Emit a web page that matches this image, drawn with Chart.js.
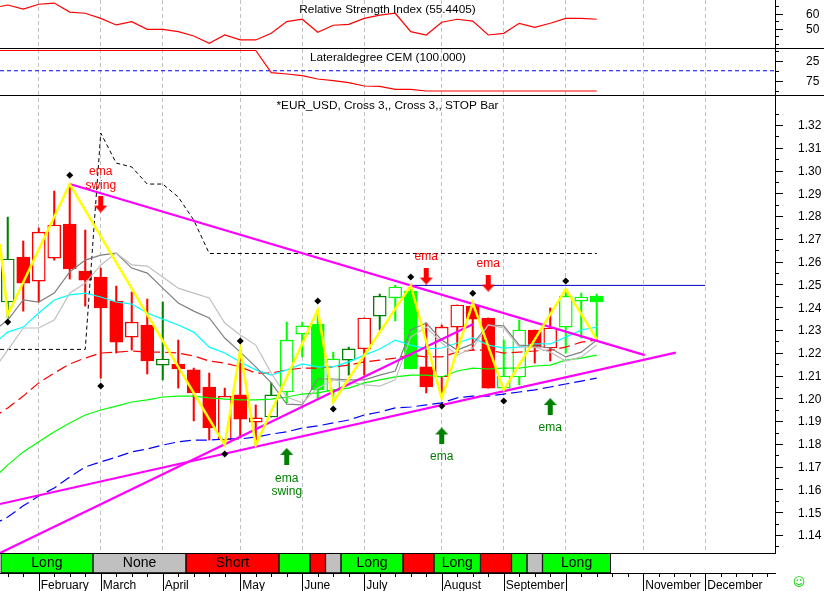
<!DOCTYPE html>
<html>
<head>
<meta charset="utf-8">
<title>EUR_USD</title>
<script src="https://cdn.jsdelivr.net/npm/chart.js@4/dist/chart.umd.min.js"></script>
<style>
html, body { margin: 0; padding: 0; background: #fff; }
canvas { display: block; }
</style>
</head>
<body>
<canvas id="chart" width="824" height="591"></canvas>
<script>
// Bars are indexed 0..38, axis runs from -0.5 to 49.5 (weekly slots)
const barIndex = [0,1,2,3,4,5,6,7,8,9,10,11,12,13,14,15,16,17,18,19,20,21,22,23,24,25,26,27,28,29,30,31,32,33,34,35,36,37,38];
const lineIndex = [-1].concat(barIndex);

const candleKind = ['greenH','redF','redH','redH','redF','redF','redF','redF','redH','redF','greenH','redF','redF','redF','redH','redF','redH','greenH','limeH','limeH','limeF','limeH','greenH','redH','greenH','limeH','limeF','redF','redH','redH','redF','redF','limeH','limeH','redF','redH','limeH','limeH','limeF'];
const candleHigh = [1.2796,1.2691,1.2748,1.2910,1.2941,1.2739,1.2572,1.2493,1.2467,1.2436,1.2423,1.2256,1.2133,1.2111,1.2045,1.2212,1.1971,1.2068,1.2335,1.2335,1.2388,1.2203,1.2225,1.2353,1.2458,1.2497,1.2497,1.2331,1.2322,1.2410,1.2423,1.2353,1.2256,1.2344,1.2300,1.2397,1.2476,1.2462,1.2458];
const bodyTop = [1.2612,1.2620,1.2730,1.2761,1.2765,1.2559,1.2533,1.2427,1.2335,1.2322,1.2173,1.2151,1.2125,1.2050,1.2010,1.2015,1.1914,1.2015,1.2256,1.2318,1.2326,1.2173,1.2217,1.2353,1.2449,1.2489,1.2471,1.2138,1.2313,1.2410,1.2405,1.2353,1.2098,1.2300,1.2300,1.2309,1.2449,1.2445,1.2449];
const bodyBottom = [1.2423,1.2506,1.2515,1.2616,1.2568,1.2519,1.2397,1.2247,1.2269,1.2164,1.2146,1.2129,1.2024,1.1870,1.1817,1.1909,1.1896,1.1918,1.2028,1.2282,1.2037,1.2032,1.2168,1.2217,1.2361,1.2441,1.2129,1.2050,1.2094,1.2313,1.2348,1.2045,1.2045,1.2094,1.2225,1.2221,1.2313,1.2427,1.2423];
const candleLow = [1.2353,1.2383,1.2423,1.2607,1.2524,1.2405,1.2089,1.2199,1.2212,1.2107,1.2081,1.2045,1.1901,1.1817,1.1795,1.1826,1.1795,1.1918,1.1980,1.2182,1.1993,1.2006,1.2102,1.2102,1.2300,1.2340,1.2129,1.2024,1.2006,1.2203,1.2212,1.2045,1.2037,1.2059,1.2155,1.2164,1.2199,1.2265,1.2256];

// moving averages, first value sits just off the left edge
const maCyan = [1.2234,1.2291,1.2313,1.2375,1.2432,1.2454,1.2462,1.2445,1.2423,1.2414,1.2375,1.2348,1.2322,1.2291,1.2225,1.2199,1.2160,1.2125,1.2102,1.2125,1.2151,1.2138,1.2138,1.2160,1.2190,1.2217,1.2256,1.2234,1.2217,1.2221,1.2243,1.2265,1.2234,1.2221,1.2225,1.2239,1.2239,1.2269,1.2300,1.2313];
const maLime = [1.1642,1.1708,1.1765,1.1809,1.1853,1.1892,1.1927,1.1949,1.1966,1.1984,1.1993,1.2006,1.2010,1.2010,1.2002,1.1997,1.1993,1.1993,1.1997,1.2006,1.2019,1.2024,1.2037,1.2045,1.2068,1.2081,1.2094,1.2102,1.2102,1.2094,1.2120,1.2133,1.2129,1.2133,1.2133,1.2142,1.2146,1.2168,1.2177,1.2190];
const maBlue = [1.1444,1.1479,1.1528,1.1571,1.1606,1.1655,1.1699,1.1721,1.1742,1.1765,1.1778,1.1795,1.1809,1.1817,1.1817,1.1822,1.1822,1.1830,1.1843,1.1853,1.1870,1.1879,1.1892,1.1905,1.1927,1.1940,1.1958,1.1962,1.1971,1.1980,1.2002,1.2010,1.2010,1.2019,1.2028,1.2037,1.2050,1.2063,1.2076,1.2089];
const maRed = [1.1914,1.1958,1.2010,1.2068,1.2111,1.2151,1.2177,1.2199,1.2203,1.2208,1.2203,1.2203,1.2199,1.2186,1.2164,1.2155,1.2138,1.2111,1.2111,1.2125,1.2133,1.2133,1.2138,1.2146,1.2160,1.2168,1.2177,1.2190,1.2182,1.2182,1.2203,1.2212,1.2212,1.2199,1.2203,1.2208,1.2212,1.2225,1.2247,1.2256];
const maGray = [1.2291,1.2344,1.2432,1.2423,1.2462,1.2555,1.2607,1.2629,1.2638,1.2572,1.2550,1.2484,1.2419,1.2383,1.2353,1.2265,1.2203,1.2138,1.2068,1.1975,1.1971,1.2085,1.2085,1.2081,1.2081,1.2102,1.2120,1.2300,1.2331,1.2256,1.2212,1.2239,1.2322,1.2318,1.2234,1.2230,1.2221,1.2182,1.2203,1.2256];
const maSilver = [1.2116,1.2212,1.2309,1.2309,1.2344,1.2462,1.2506,1.2586,1.2638,1.2586,1.2581,1.2533,1.2484,1.2462,1.2441,1.2331,1.2278,1.2234,1.2111,1.2006,1.1980,1.2045,1.2081,1.2072,1.2059,1.2054,1.2081,1.2269,1.2313,1.2243,1.2190,1.2221,1.2322,1.2309,1.2225,1.2225,1.2203,1.2164,1.2182,1.2234];

const zigzagX = [-0.5,0,4,14,15,16,20,21,26,28,30,32,36,38];
const zigzagY = [1.2678,1.2366,1.2941,1.1795,1.2212,1.1795,1.2388,1.1984,1.2495,1.2001,1.2419,1.2037,1.2480,1.2260];
const pivotX = [0,4,6,14,15,20,21,26,28,30,32,36];
const pivotY = [1.2335,1.2980,1.2054,1.1756,1.2252,1.2427,1.1953,1.2533,1.1966,1.2462,1.1988,1.2515];
const stopX = [-0.5,5,6,7,8,9,10,11,12,13,38];
const stopY = [1.2215,1.2215,1.3165,1.3033,1.3016,1.2941,1.2941,1.2884,1.2783,1.2636,1.2636];
const resistanceX = [26,45];
const resistanceY = [1.2496,1.2496];
const trendDownX = [4,41.1];
const trendDownY = [1.2941,1.2190];
const trendUpX = [-0.5,43.1];
const trendUpY = [1.1536,1.2201];
const trendSteepX = [-0.5,30];
const trendSteepY = [1.1321,1.2325];

const sellArrowX = [6,27,31];
const sellArrowY = [1.2853,1.2537,1.2506];
const buyArrowX = [18,28,35];
const buyArrowY = [1.1745,1.1835,1.1964];
const sellNotes = ['ema','swing','ema','ema'];
const sellNoteX = [6,6,27,31];
const sellNoteY = [1.2994,1.2932,1.2620,1.2590];
const buyNotes = ['ema','swing','ema','ema'];
const buyNoteX = [18,18,28,35];
const buyNoteY = [1.1646,1.1589,1.1742,1.1870];

const rsiValues = [63.8,65.8,63.1,66.3,67.1,61.1,60.3,56.9,52.5,54.7,49.6,49.6,48,45.1,40.3,45.8,42.5,42.5,46.9,54.7,56.3,47.6,52.3,52.9,56.9,59.1,60.3,48,45.8,54.3,56.3,55.1,45.8,46.9,53.6,50.9,53.6,56.9,56.9,56.3];
const cemValues = [0,0,0,0,0,0,0,0,0,0,0,0,0,0,0,0,0,0,54.8,58,62.2,70.4,74.6,79.5,87.7,88.4,95.8,95.8,100,100,100,100,100,100,100,100,100,100,100,100];
const cemLevel = 50;

const stateNames = ['Long','None','Short','Long','Short','None','Long','Short','Long','Short','Long','None','Long',''];
const stateFrom = [-0.45,5.5,11.5,17.5,19.5,20.5,21.5,25.5,27.5,30.5,32.5,33.5,34.5,38.9];
const stateTo = [5.5,11.5,17.5,19.5,20.5,21.5,25.5,27.5,30.5,32.5,33.5,34.5,38.9,49.5];
const stateLabelled = [true,true,true,false,false,false,true,false,true,false,false,false,true,false];

const monthTicks = [2,6,10,15,19,23,28,32,36,41,45];
const monthNames = ['February','March','April','May','June','July','August','September','','November','December'];
const priceMajor = [1.14,1.15,1.16,1.17,1.18,1.19,1.20,1.21,1.22,1.23,1.24,1.25,1.26,1.27,1.28,1.29,1.30,1.31,1.32];
const priceMinor = [1.135,1.145,1.155,1.165,1.175,1.185,1.195,1.205,1.215,1.225,1.235,1.245,1.255,1.265,1.275,1.285,1.295,1.305,1.315,1.325];
const rsiMajor = [50,60];
const rsiMinor = [40,45,55,65];
const cemMajor = [25,75];
const cemMinor = [0,50,100];

const titleRsi = 'Relative Strength Index (55.4405)';
const titleCem = 'Lateraldegree CEM (100.000)';
const titlePrice = '*EUR_USD, Cross 3,, Cross 3,, STOP Bar';

const FONT = '"Liberation Sans", Arial, sans-serif';
const RED = '#ff0000', LIME = '#00ff00', GREEN = '#008000', MAGENTA = '#ff00ff';
const KIND_STYLE = {
    redF:   { line: RED,   fill: RED },
    redH:   { line: RED,   fill: '#ffffff' },
    greenH: { line: GREEN, fill: '#ffffff' },
    limeH:  { line: LIME,  fill: '#ffffff' },
    limeF:  { line: LIME,  fill: LIME },
};
const STATE_FILL = { Long: LIME, None: '#c0c0c0', Short: RED };
const stateFill = stateNames.map(s => STATE_FILL[s] || '#ffffff');

const zip = (xs, ys) => xs.map((x, i) => ({ x, y: ys[i] }));

function trazo(label, xs, ys, color, width, extra) {
    return Object.assign({
        type: 'line', label, data: zip(xs, ys), yAxisID: 'price',
        borderColor: color, borderWidth: width, pointRadius: 0, tension: 0, order: 5,
    }, extra || {});
}

function arrowImage(color, up) {
    const c = document.createElement('canvas');
    c.width = 13; c.height = 17;
    const g = c.getContext('2d');
    g.fillStyle = color;
    g.save();
    if (!up) { g.translate(0, 17); g.scale(1, -1); }
    g.beginPath();
    g.moveTo(6.5, 0); g.lineTo(13, 7); g.lineTo(9, 7); g.lineTo(9, 17);
    g.lineTo(4, 17); g.lineTo(4, 7); g.lineTo(0, 7);
    g.closePath(); g.fill();
    g.restore();
    return c;
}

const barSlots = [0,1,2,3,4,5,6,7,8,9,10,11,12,13,14,15,16,17,18,19,20,21,22,23,24,25,26,27,28,29,30,31,32,33,34,35,36,37,38,39,40,41,42,43,44,45,46,47,48,49];

// tick marks with two lengths plus separators, panel titles and strip names
const decorPlugin = {
    id: 'decor',
    afterDatasetsDraw(chart) {
        const { ctx, scales } = chart;
        const right = scales.price.left;
        ctx.save();
        ctx.strokeStyle = '#000'; ctx.lineWidth = 1;
        const hline = (y, x0, x1) => { y = Math.round(y) + 0.5; ctx.beginPath(); ctx.moveTo(x0, y); ctx.lineTo(x1, y); ctx.stroke(); };
        hline(scales.cem.top, 0, 824);
        hline(scales.price.top, 0, 824);
        hline(scales.state.top, 0, right);
        [['rsi', rsiMajor, rsiMinor], ['cem', cemMajor, cemMinor], ['price', priceMajor, priceMinor]].forEach(([id, major, minor]) => {
            const s = scales[id];
            major.forEach(v => hline(s.getPixelForValue(v), right, right + 8));
            minor.forEach(v => hline(s.getPixelForValue(v), right, right + 4));
        });
        const bottom = scales.x.top;
        barSlots.forEach(v => {
            const x = Math.round(scales.x.getPixelForValue(v)) + 0.5;
            ctx.beginPath(); ctx.moveTo(x, bottom);
            ctx.lineTo(x, bottom + (monthTicks.includes(v) ? 18 : 4)); ctx.stroke();
        });

        ctx.textAlign = 'center'; ctx.textBaseline = 'middle';
        ctx.fillStyle = '#000'; ctx.font = '11.8px ' + FONT;
        ctx.fillText(titleRsi, 387.5, 10);
        ctx.fillText(titleCem, 388, 58);
        ctx.fillText(titlePrice, 387.5, 106);

        ctx.font = '14px ' + FONT;
        stateNames.forEach((n, i) => {
            if (!stateLabelled[i]) return;
            const x = (scales.x.getPixelForValue(stateFrom[i]) + scales.x.getPixelForValue(stateTo[i])) / 2;
            ctx.fillText(n, x, scales.state.getPixelForValue(0.5));
        });

        ctx.font = '12px ' + FONT;
        ctx.fillStyle = RED;
        sellNotes.forEach((t, i) => ctx.fillText(t, scales.x.getPixelForValue(sellNoteX[i]), scales.price.getPixelForValue(sellNoteY[i])));
        ctx.fillStyle = GREEN;
        buyNotes.forEach((t, i) => ctx.fillText(t, scales.x.getPixelForValue(buyNoteX[i]), scales.price.getPixelForValue(buyNoteY[i])));

        ctx.fillStyle = '#00d000';
        ctx.font = '12px "DejaVu Sans"';
        ctx.fillText('\u263A', 799, 583);
        ctx.restore();
    },
};

function yScale(stackWeight, weight, min, max, major, minor, padding, reverse) {
    return {
        type: 'linear', position: 'right', stack: 'panels', stackWeight, weight,
        min, max, reverse: !!reverse, offset: false,
        grid: { display: false, drawTicks: false },
        border: { display: true, color: '#000' },
        afterBuildTicks: s => { s.ticks = major.concat(minor).map(value => ({ value })); },
        afterFit: s => { s.width = 49; s.paddingTop = 0; s.paddingBottom = 0; },
        ticks: {
            autoSkip: false, padding, labelOffset: 1, color: '#000', font: { size: 12 },
            callback: v => (major.includes(v) ? String(v) : ''),
        },
    };
}

const priceScale = yScale(458, 3, 1.1321, 1.3332, priceMajor, priceMinor, 23);
priceScale.ticks.callback = v => (priceMajor.includes(v) ? v.toFixed(2) : '');

const stateScale = yScale(20, 4, 0, 1, [], [], 0);
stateScale.border = { display: false };
stateScale.ticks.display = false;

Chart.defaults.font.family = FONT;

new Chart(document.getElementById('chart').getContext('2d'), {
    type: 'line',
    data: {
        datasets: [
            // state strip
            {
                type: 'bar', indexAxis: 'y', label: 'State', xAxisID: 'x', yAxisID: 'state', grouped: false,
                data: stateFrom.map((from, i) => ({ x: [from, stateTo[i]], y: 0.5 })),
                backgroundColor: stateFill,
                borderColor: stateNames.map(n => (n ? '#000' : 'transparent')),
                borderWidth: 1, borderSkipped: false, barThickness: 20, order: 1,
            },
            // pivots and signals
            trazo('Pivots', pivotX, pivotY, '#000', 0, { showLine: false, pointStyle: 'rectRot', pointRadius: 3.5, pointBackgroundColor: '#000', pointBorderWidth: 0, order: 2 }),
            trazo('Sell', sellArrowX, sellArrowY, RED, 0, { showLine: false, pointStyle: arrowImage(RED, false), pointRadius: 8, order: 2 }),
            trazo('Buy', buyArrowX, buyArrowY, GREEN, 0, { showLine: false, pointStyle: arrowImage(GREEN, true), pointRadius: 8, order: 2 }),
            trazo('Zigzag', zigzagX, zigzagY, '#ffff00', 2.5, { order: 3 }),
            trazo('Trend down', trendDownX, trendDownY, MAGENTA, 2.2, { order: 4 }),
            trazo('Trend up', trendUpX, trendUpY, MAGENTA, 2.2, { order: 4 }),
            trazo('Trend steep', trendSteepX, trendSteepY, MAGENTA, 2.2, { order: 4 }),
            trazo('Resistance', resistanceX, resistanceY, '#0000c8', 1, { order: 4 }),
            // moving averages
            trazo('MA silver', lineIndex, maSilver, '#c0c0c0', 1.2),
            trazo('MA gray', lineIndex, maGray, '#808080', 1.2),
            trazo('MA cyan', lineIndex, maCyan, '#00ffff', 1.2),
            trazo('MA red', lineIndex, maRed, RED, 1.2, { borderDash: [11, 5] }),
            trazo('MA lime', lineIndex, maLime, LIME, 1.2),
            trazo('MA blue', lineIndex, maBlue, '#0000ff', 1.2, { borderDash: [11, 5] }),
            trazo('Stop', stopX, stopY, '#000', 1, { borderDash: [4, 3] }),
            // candles: wick behind, body on top
            {
                type: 'bar', label: 'Body', yAxisID: 'price', grouped: false,
                data: barIndex.map(i => ({ x: i, y: [bodyBottom[i], bodyTop[i]] })),
                backgroundColor: candleKind.map(k => KIND_STYLE[k].fill),
                borderColor: candleKind.map(k => KIND_STYLE[k].line),
                borderWidth: 1.4, borderSkipped: false, barThickness: 13, order: 6,
            },
            {
                type: 'bar', label: 'Wick', yAxisID: 'price', grouped: false,
                data: barIndex.map(i => ({ x: i, y: [candleLow[i], candleHigh[i]] })),
                backgroundColor: candleKind.map(k => KIND_STYLE[k].line),
                borderWidth: 0, barThickness: 1.4, order: 7,
            },
            // indicator panels
            { type: 'line', label: 'RSI', data: zip(lineIndex, rsiValues), yAxisID: 'rsi', borderColor: RED, borderWidth: 1.2, pointRadius: 0, order: 5 },
            { type: 'line', label: 'CEM', data: zip(lineIndex, cemValues), yAxisID: 'cem', borderColor: RED, borderWidth: 1.2, pointRadius: 0, order: 5 },
            { type: 'line', label: 'CEM level', data: [{ x: -0.5, y: cemLevel }, { x: 49.5, y: cemLevel }], yAxisID: 'cem', borderColor: '#0000ff', borderWidth: 1, borderDash: [4, 3], pointRadius: 0, order: 5 },
        ],
    },
    options: {
        responsive: false,
        animation: false,
        devicePixelRatio: 1,
        layout: { padding: 0, autoPadding: false },
        plugins: { legend: { display: false }, tooltip: { enabled: false } },
        scales: {
            x: {
                type: 'linear', min: -0.5, max: 49.5, offset: false,
                grid: {
                    offset: false, drawTicks: false,
                    color: ctx => (ctx.tick && monthTicks.includes(ctx.tick.value) ? '#c0c0c0' : 'transparent'),
                },
                border: { display: true, color: '#000', dash: [4, 3] },
                afterBuildTicks: s => { s.ticks = barSlots.map(value => ({ value })); },
                afterFit: s => { s.height = 18; s.paddingLeft = 0; s.paddingRight = 0; },
                ticks: {
                    autoSkip: false, maxRotation: 0, align: 'start', padding: 5, labelOffset: 2,
                    color: '#000', font: { size: 12 },
                    callback: v => monthNames[monthTicks.indexOf(v)] || '',
                },
            },
            rsi: yScale(48, 1, 37.13, 69.13, rsiMajor, rsiMinor, 31),
            cem: yScale(47, 2, -6.2, 109.9, cemMajor, cemMinor, 31, true),
            price: priceScale,
            state: stateScale,
        },
    },
    plugins: [decorPlugin],
});
</script>
</body>
</html>
